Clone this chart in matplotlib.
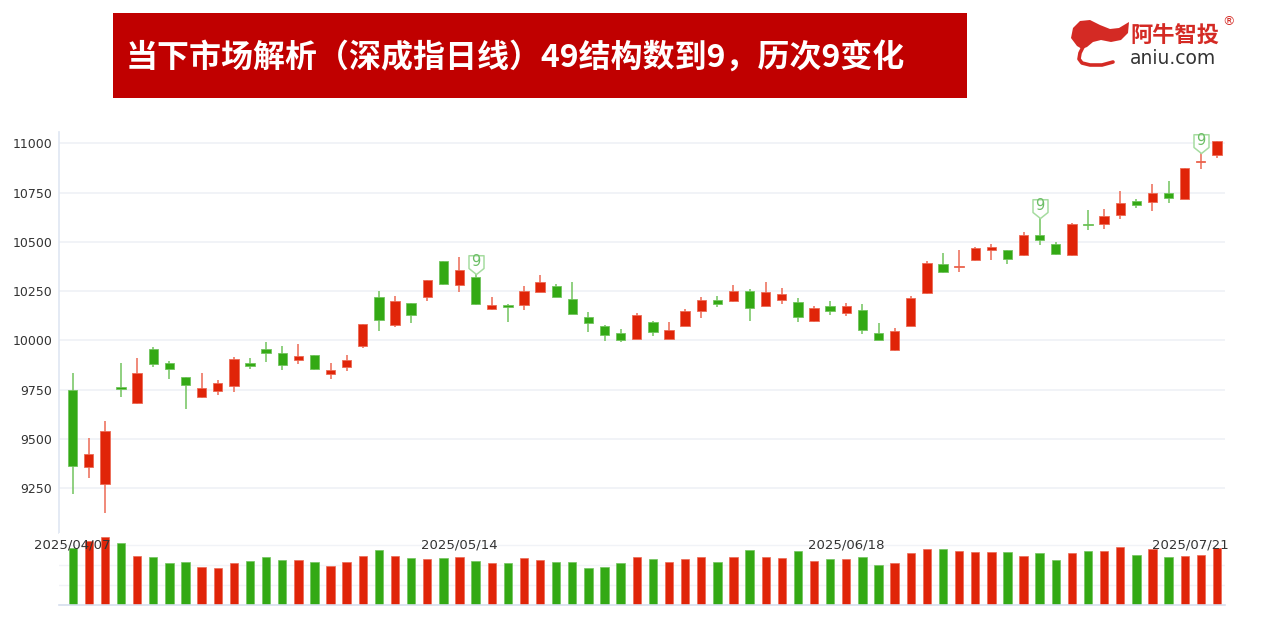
import matplotlib
matplotlib.use("Agg")
import matplotlib.pyplot as plt
import numpy as np
from matplotlib.patches import Rectangle, Polygon
from matplotlib.path import Path
from matplotlib.markers import MarkerStyle

plt.rcParams['font.family'] = ['Noto Sans CJK SC', 'DejaVu Sans']

# ---------------- data ----------------
dates = (
    ["2025/04/%02d" % d for d in [7, 8, 9, 10, 11, 14, 15, 16, 17, 18, 21, 22, 23, 24, 25, 28, 29, 30]] +
    ["2025/05/%02d" % d for d in [6, 7, 8, 9, 12, 13, 14, 15, 16, 19, 20, 21, 22, 23, 26, 27, 28, 29, 30]] +
    ["2025/06/%02d" % d for d in [3, 4, 5, 6, 9, 10, 11, 12, 13, 16, 17, 18, 19, 20, 23, 24, 25, 26, 27, 30]] +
    ["2025/07/%02d" % d for d in [1, 2, 3, 4, 7, 8, 9, 10, 11, 14, 15, 16, 17, 18, 21]]
)

opens = [9750, 9359, 9271, 9762, 9683, 9957, 9888, 9813, 9712, 9742, 9769, 9884,
         9957, 9935, 9900, 9926, 9830, 9866, 9972, 10221, 10080, 10190, 10219, 10403,
         10280, 10324, 10160, 10177, 10180, 10246, 10278, 10212, 10118, 10074, 10038, 10008,
         10092, 10008, 10074, 10151, 10207, 10202, 10251, 10176, 10207, 10194, 10097, 10176,
         10141, 10155, 10038, 9950, 10074, 10239, 10388, 10372, 10407, 10459, 10459, 10432,
         10537, 10489, 10432, 10591, 10592, 10636, 10706, 10700, 10749, 10718, 10905, 10941]
highs = [9834, 9507, 9593, 9884, 9910, 9969, 9896, 9816, 9834, 9800, 9915, 9913,
         9992, 9972, 9981, 9928, 9884, 9926, 10085, 10251, 10226, 10192, 10308, 10405,
         10422, 10335, 10222, 10187, 10275, 10331, 10285, 10295, 10143, 10079, 10060, 10138,
         10099, 10092, 10161, 10219, 10226, 10281, 10260, 10295, 10266, 10217, 10175, 10200,
         10190, 10184, 10087, 10065, 10226, 10404, 10444, 10457, 10472, 10488, 10461, 10550,
         10620, 10500, 10594, 10662, 10668, 10760, 10716, 10792, 10807, 10877, 10949, 11012]
lows = [9222, 9301, 9124, 9715, 9680, 9864, 9806, 9654, 9710, 9725, 9737, 9857,
        9893, 9850, 9881, 9852, 9803, 9845, 9964, 10050, 10070, 10087, 10202, 10281,
        10244, 10182, 10153, 10092, 10155, 10244, 10219, 10134, 10045, 9997, 9991, 10006,
        10024, 10006, 10072, 10116, 10171, 10194, 10099, 10174, 10184, 10094, 10095, 10131,
        10123, 10031, 10001, 9948, 10072, 10237, 10344, 10349, 10405, 10410, 10388, 10430,
        10484, 10435, 10430, 10562, 10567, 10615, 10672, 10657, 10699, 10716, 10868, 10927]
closes = [9362, 9423, 9541, 9756, 9835, 9881, 9855, 9774, 9761, 9783, 9905, 9872,
          9935, 9877, 9920, 9855, 9852, 9900, 10082, 10102, 10199, 10129, 10305, 10288,
          10356, 10184, 10182, 10174, 10251, 10295, 10221, 10136, 10090, 10030, 10003, 10131,
          10043, 10055, 10148, 10204, 10187, 10251, 10165, 10248, 10234, 10121, 10165, 10151,
          10176, 10052, 10003, 10047, 10217, 10395, 10346, 10378, 10468, 10476, 10415, 10537,
          10510, 10437, 10589, 10586, 10633, 10697, 10686, 10746, 10723, 10875, 10912, 11010]
volumes = [170, 193, 205, 185, 148, 145, 127, 130, 115, 112, 125, 133,
           145, 135, 135, 130, 117, 130, 148, 165, 148, 140, 137, 142,
           145, 133, 125, 127, 140, 135, 130, 130, 112, 115, 125, 143,
           137, 130, 137, 145, 130, 143, 165, 143, 140, 163, 133, 137,
           137, 143, 120, 125, 155, 168, 168, 163, 158, 160, 158, 148,
           155, 135, 155, 163, 163, 173, 150, 167, 143, 148, 150, 170]

nine_marks = [25, 60, 70]          # candles carrying the "9" tag
date_ticks = [0, 24, 48, 71]
price_ticks = [9250, 9500, 9750, 10000, 10250, 10500, 10750, 11000]
vol_grid = [60, 120, 180]

title = "当下市场解析（深成指日线）49结构数到9，历次9变化"

# ---------------- style ----------------
RED = "#E02408"
GREEN = "#33A914"
RED_W = "#EC6A55"
GREEN_W = "#72C45E"
GRID = "#EEF0F5"

W, H = 1268, 621
fig = plt.figure(figsize=(W / 100, H / 100), dpi=100)
fig.patch.set_facecolor("white")

def px_axes(l, t, r, b):
    return [l / W, (H - b) / H, (r - l) / W, (b - t) / H]

ax = fig.add_axes(px_axes(59, 132, 1225, 533))
axv = fig.add_axes(px_axes(59, 533, 1225, 605))

n = len(opens)
x = np.arange(n)
o = np.array(opens, float); c = np.array(closes, float)
hi = np.array(highs, float); lo = np.array(lows, float)
up = c >= o
body_col = np.where(up, RED, GREEN)
wick_col = np.where(up, RED_W, GREEN_W)

# wicks
ax.vlines(x, lo, hi, colors=wick_col, linewidth=1.1, zorder=2)
# bodies
body_h = np.maximum(np.abs(c - o), 7)
body_b = np.minimum(o, c) - np.where(np.abs(c - o) < 7, (7 - np.abs(c - o)) / 2, 0)
ax.bar(x, body_h, bottom=body_b, width=0.58, color=body_col,
       edgecolor=wick_col, linewidth=0.6, zorder=3)

# "9" tags
tag = Path([(0, 0), (-0.4, 0.32), (-0.4, 1.0), (0.4, 1.0), (0.4, 0.32), (0, 0)],
           [Path.MOVETO, Path.LINETO, Path.LINETO, Path.LINETO, Path.LINETO, Path.CLOSEPOLY])
for i in nine_marks:
    ax.plot([x[i]], [hi[i]], marker=MarkerStyle(tag), markersize=27,
            markerfacecolor="white", markeredgecolor="#A6DCA0", markeredgewidth=1.1,
            zorder=4, clip_on=False)
    ax.annotate("9", (x[i], hi[i]), xytext=(0, 9.2), textcoords="offset points",
                ha="center", va="center", fontsize=10.5, color="#6DBE67",
                family="DejaVu Sans", zorder=5)

ax.set_xlim(-0.85, n - 0.5)
ax.set_ylim(9024, 11057)
ax.set_yticks(price_ticks)
ax.set_yticklabels([str(v) for v in price_ticks], fontsize=9, color="#333333",
                   family="DejaVu Sans")
ax.tick_params(axis="y", length=0, pad=5)
ax.set_xticks([])
ax.grid(axis="y", color=GRID, linewidth=1.1, zorder=0)
ax.set_axisbelow(True)
for s in ["top", "right", "bottom"]:
    ax.spines[s].set_visible(False)
ax.spines["left"].set_color("#DFE6F2")
ax.spines["left"].set_linewidth(1.2)

# volume
axv.bar(x, volumes, width=0.52, color=body_col, edgecolor=wick_col,
        linewidth=0.5, zorder=2)
axv.set_xlim(-0.85, n - 0.5)
axv.set_ylim(0, 216)
axv.set_yticks(vol_grid)
axv.set_yticklabels([])
axv.tick_params(length=0)
axv.set_xticks([])
axv.grid(axis="y", color="#F1F3F7", linewidth=1, zorder=0)
axv.set_axisbelow(True)
for s in ["top", "right", "left"]:
    axv.spines[s].set_visible(False)
axv.spines["bottom"].set_color("#D6DEEE")
axv.spines["bottom"].set_linewidth(1.2)

ylab = (605 - 545) / 72
for k, i in enumerate(date_ticks):
    if k == len(date_ticks) - 1:
        axv.text(1.003, ylab, dates[i], transform=axv.transAxes, ha="right",
                 va="center", fontsize=9.5, color="#333333", family="DejaVu Sans", zorder=6)
    else:
        axv.text(x[i], ylab, dates[i], transform=axv.get_xaxis_transform(),
                 ha="center", va="center", fontsize=9.5, color="#333333",
                 family="DejaVu Sans", zorder=6, clip_on=False)

# ---------------- header overlay ----------------
ov = fig.add_axes([0, 0, 1, 1], zorder=-1)
ov.set_xlim(0, W); ov.set_ylim(H, 0); ov.axis("off")
ov.add_patch(Rectangle((113, 13), 854, 85, facecolor="#C00000", edgecolor="none"))
ov.text(126, 58, title, color="white", fontsize=23, fontweight="bold",
        ha="left", va="center")

# logo
flag = [(1071, 38), (1073, 28), (1080, 21), (1090, 20), (1100, 25), (1110, 29),
        (1119, 28), (1129, 22), (1128, 33), (1121, 40), (1111, 42), (1101, 40),
        (1093, 42), (1087, 47), (1082, 49), (1077, 46)]
ov.add_patch(Polygon(flag, closed=True, facecolor="#D42A24", edgecolor="none"))
ov.plot([1083, 1080, 1079, 1082, 1090, 1102, 1113], [47, 53, 59, 63, 65, 65, 62],
        color="#D42A24", linewidth=2.6, solid_capstyle="round")
ov.text(1130, 36, "阿牛智投", color="#D42A24", fontsize=16, fontweight="bold",
        ha="left", va="center")
ov.text(1228, 22, "®", color="#D42A24", fontsize=9, ha="center", va="center",
        family="DejaVu Sans")
ov.text(1130, 58, "aniu.com", color="#333333", fontsize=13.5, ha="left",
        va="center", family="DejaVu Sans")

fig.savefig("out.png", dpi=100, facecolor="white")
